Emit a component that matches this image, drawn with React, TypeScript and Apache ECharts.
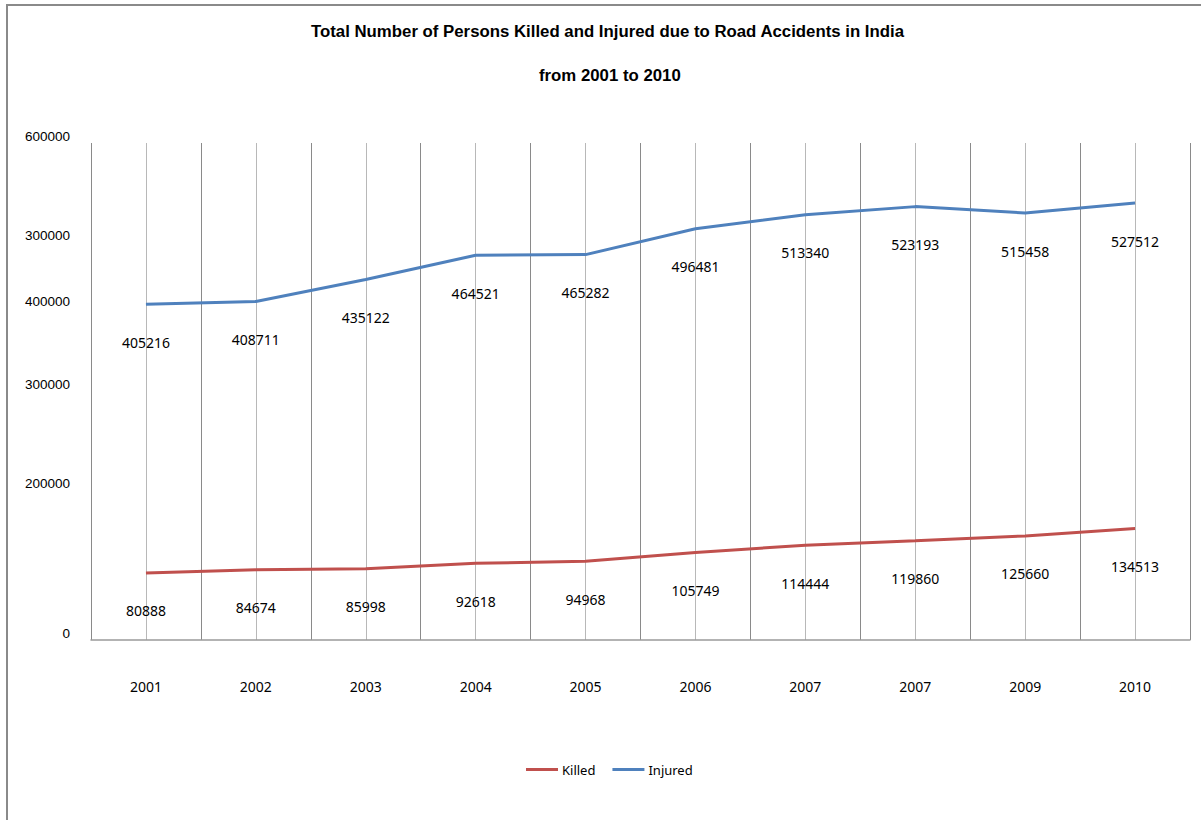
import React, { useEffect, useRef } from "react";
import * as echarts from "echarts";

// Years along the category axis (as printed on the sheet)
const years = ["2001", "2002", "2003", "2004", "2005", "2006", "2007", "2007", "2009", "2010"];

// Persons killed per year
const killed = [80888, 84674, 85998, 92618, 94968, 105749, 114444, 119860, 125660, 134513];

// Persons injured per year
const injured = [405216, 408711, 435122, 464521, 465282, 496481, 513340, 523193, 515458, 527512];

// Value-axis tick positions and the texts printed beside them
const yTickValues = [0, 180000, 300000, 400000, 480000, 600000];
const yTickLabels = ["0", "200000", "300000", "400000", "300000", "600000"];

const titleText = "Total Number of Persons Killed and Injured due to Road Accidents in India";
const subtitleText = "from 2001 to 2010";

const KILLED_COLOR = "#C0504D";
const INJURED_COLOR = "#4F81BD";
const LABEL_FONT = "'Noto Sans', 'Open Sans', sans-serif";
const AXIS_FONT = "'Liberation Sans', Arial, sans-serif";

const dataLabel = {
  show: true,
  position: "bottom",
  distance: 31,
  fontFamily: LABEL_FONT,
  fontSize: 14,
  color: "#000",
};

const titleStyle = {
  fontFamily: AXIS_FONT,
  fontWeight: "bold",
  fontSize: 16.8,
  color: "#000",
};

export default function App() {
  const ref = useRef<HTMLDivElement>(null);

  useEffect(() => {
    if (!ref.current) return;
    const chart = echarts.init(ref.current, null, { renderer: "svg" });

    const labelFor = (v: number) => {
      const i = yTickValues.indexOf(v);
      return i >= 0 ? yTickLabels[i] : "";
    };

    chart.setOption({
      animation: false,
      backgroundColor: "#ffffff",
      title: [
        { text: titleText, left: 311, top: 23, padding: 0, textStyle: titleStyle },
        { text: subtitleText, left: 539, top: 67, padding: 0, textStyle: titleStyle },
      ],
      legend: {
        top: 758,
        left: 521,
        icon: "rect",
        itemWidth: 32,
        itemHeight: 3,
        itemGap: 17,
        textStyle: { fontFamily: LABEL_FONT, fontSize: 13, color: "#000", padding: [0, 0, 0, -1] },
        data: ["Killed", "Injured"],
      },
      graphic: [
        {
          type: "rect",
          shape: { x: 7, y: 5, width: 1400, height: 1000 },
          style: { fill: "none", stroke: "#8a8a8a", lineWidth: 2 },
          silent: true,
        },
      ],
      grid: { left: 91, right: 11, top: 143, bottom: 180, containLabel: false },
      xAxis: [
        {
          // fine vertical lines through each category centre
          type: "value",
          position: "bottom",
          min: 0,
          max: 20,
          interval: 1,
          show: true,
          axisLabel: { show: false },
          axisTick: { show: false },
          axisLine: { show: false },
          splitLine: { show: true, lineStyle: { color: "#b8b8b8", width: 1 } },
        },
        {
          type: "category",
          position: "bottom",
          data: years,
          boundaryGap: true,
          z: 1,
          axisLine: { show: true, lineStyle: { color: "#9a9a9a", width: 1.5 } },
          axisTick: { show: false },
          axisLabel: {
            margin: 39,
            fontFamily: LABEL_FONT,
            fontSize: 14,
            color: "#000",
          },
          splitLine: { show: true, lineStyle: { color: "#8a8a8a", width: 1 } },
        },
      ],
      yAxis: {
        type: "value",
        min: 0,
        max: 600000,
        axisLine: { show: false },
        axisTick: { show: false },
        splitLine: { show: false },
        axisLabel: {
          customValues: yTickValues,
          formatter: (v: number) => labelFor(v),
          margin: 21,
          verticalAlign: "bottom",
          lineHeight: 14,
          fontFamily: AXIS_FONT,
          fontSize: 13.5,
          color: "#000",
        },
      },
      series: [
        {
          name: "Killed",
          type: "line",
          xAxisIndex: 1,
          data: killed,
          symbol: "circle",
          symbolSize: 0,
          color: KILLED_COLOR,
          lineStyle: { width: 3, color: KILLED_COLOR },
          label: dataLabel,
        },
        {
          name: "Injured",
          type: "line",
          xAxisIndex: 1,
          data: injured,
          symbol: "circle",
          symbolSize: 0,
          color: INJURED_COLOR,
          lineStyle: { width: 3, color: INJURED_COLOR },
          label: dataLabel,
        },
      ],
    });

    return () => chart.dispose();
  }, []);

  return (
    <div
      ref={ref}
      style={{ position: "fixed", left: 0, top: 0, width: 1201, height: 820 }}
    />
  );
}
